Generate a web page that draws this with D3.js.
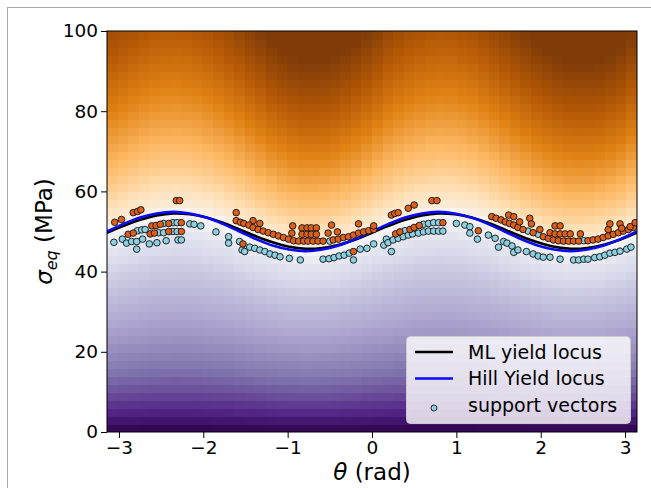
<!DOCTYPE html>
<html>
<head>
<meta charset="utf-8">
<script src="https://cdn.jsdelivr.net/npm/d3@7"></script>
<style>
  html, body { margin: 0; padding: 0; background: #ffffff; }
  svg { display: block; font-family: "DejaVu Sans", sans-serif; }
</style>
</head>
<body>
<svg id="chart" width="651" height="488"></svg>
<script>
// ---- data -------------------------------------------------------------
// loading angle knots (rad), step pi/16
const thetaKnots = [-3.1416, -2.9452, -2.7489, -2.5525, -2.3562, -2.1598, -1.9635, -1.7671,
  -1.5708, -1.3744, -1.1781, -0.9817, -0.7854, -0.5890, -0.3927, -0.1963, 0,
  0.1963, 0.3927, 0.5890, 0.7854, 0.9817, 1.1781, 1.3744, 1.5708, 1.7671, 1.9635,
  2.1598, 2.3562, 2.5525, 2.7489, 2.9452, 3.1416];

// Hill yield locus (MPa)
const hillLocus = [50.0, 51.9, 53.5, 54.5, 54.9, 54.5, 53.5, 51.9, 50.0, 48.1, 46.5, 45.5, 45.1,
  45.5, 46.5, 48.1, 50.0, 51.9, 53.5, 54.5, 54.9, 54.5, 53.5, 51.9, 50.0, 48.1, 46.5, 45.5,
  45.1, 45.5, 46.5, 48.1, 50.0];

// ML yield locus (MPa), zero level of the classifier
const mlLocus = [49.7, 51.4, 52.9, 54.0, 54.5, 54.3, 53.5, 52.2, 50.5, 48.8, 47.3, 46.2, 45.7,
  45.9, 46.7, 48.0, 49.7, 51.4, 52.9, 54.0, 54.5, 54.3, 53.5, 52.2, 50.5, 48.8, 47.3, 46.2,
  45.7, 45.9, 46.7, 48.0, 49.7];

// height above the ML locus (MPa) where the decision field reaches full brown
const orangeSpan = [60, 61, 63, 64, 64, 63, 61, 58.5, 56, 53, 50, 48, 47,
  47, 48, 49.5, 52, 56, 58.5, 60, 61, 61, 59.5, 57, 54.5, 52, 50, 48,
  47, 46.5, 46.5, 48, 52];

// decision level below the locus, by stress as a fraction of the locus
const purpleRatio = [0, 0.03, 0.1, 0.2, 0.3, 0.45, 0.6, 0.75, 0.9, 1];
const purpleLevel = [-1, -0.94, -0.81, -0.69, -0.59, -0.47, -0.37, -0.27, -0.13, 0];

// diverging colour map, brown (+1) through white (0) to purple (-1)
const mapLevels = [1, 0.8, 0.6, 0.4, 0.2, 0, -0.2, -0.4, -0.6, -0.8, -1];
const mapColours = ["#7f3b08", "#b35806", "#e08214", "#fdb863", "#fee0b6", "#f7f7f7",
  "#d8daeb", "#b2abd2", "#8073ac", "#542788", "#2d004b"];

const gridCols = 50;
const gridRows = 50;

const xTicks = [-3, -2, -1, 0, 1, 2, 3];
const yTicks = [0, 20, 40, 60, 80, 100];

// support vectors [theta (rad), sigma_eq (MPa)] — yielded class
const yieldedPts = [
  [-3.05,52.3],[-2.97,53.0],[-2.83,54.7],[-2.78,55.0],[-2.74,55.4],[-2.32,57.7],[-2.28,57.7],
  [-2.89,49.3],[-2.83,49.6],[-2.61,51.4],[-2.56,51.5],[-2.51,51.8],[-2.41,52.0],[-2.26,52.2],
  [-2.63,49.4],[-2.58,49.6],[-2.41,50.0],[-2.26,50.0],
  [-1.61,54.7],[-1.61,52.7],[-1.56,52.3],[-1.52,52.0],[-1.41,52.7],[-1.33,52.0],[-1.46,51.6],
  [-1.41,51.0],[-1.35,50.5],[-1.29,50.1],[-1.23,49.7],[-1.17,49.3],[-1.11,48.9],[-1.05,48.5],
  [-0.99,48.1],[-0.93,47.7],[-0.87,47.6],[-0.81,47.6],[-0.76,47.6],[-0.70,47.6],[-0.64,47.6],
  [-0.58,47.6],[-0.46,47.9],[-0.40,48.1],[-0.34,48.5],[-0.28,48.7],[-0.22,49.1],[-0.16,49.6],
  [-0.10,49.9],[-0.04,50.2],[0.02,50.5],
  [-0.94,51.4],[-0.83,50.9],[-0.77,50.9],[-0.72,50.9],[-0.66,50.9],[-0.95,49.6],[-0.83,49.3],
  [-0.77,49.3],[-0.72,49.3],[-0.66,49.3],[-0.48,51.6],[-0.41,49.9],[-0.52,49.6],[-0.16,51.9],
  [0.02,51.4],[-1.53,46.9],[-0.22,45.0],
  [0.23,54.1],[0.27,54.5],[0.31,54.7],[0.43,55.8],[0.50,56.6],[0.71,57.7],[0.77,57.7],
  [0.28,49.4],[0.33,49.9],[0.45,50.5],[0.50,51.0],[0.56,51.5],[0.84,52.2],[1.26,50.2],
  [1.42,53.7],[1.47,53.3],[1.53,52.9],[1.58,52.4],[1.63,52.0],[1.68,51.6],[1.73,51.0],
  [1.79,50.5],[1.91,49.7],[2.03,48.7],[2.09,48.3],[2.15,47.9],[2.21,47.7],[2.27,47.6],
  [2.33,47.6],[2.39,47.6],[2.45,47.6],[2.56,47.7],[2.62,47.9],[2.68,48.1],[2.74,48.5],
  [2.80,48.9],[2.86,49.3],[2.92,49.7],[2.98,50.1],[3.04,50.5],[3.10,51.0],
  [1.62,54.1],[1.68,53.7],[1.75,52.4],[1.87,53.3],[1.89,51.9],[1.99,50.5],[2.17,51.4],
  [2.23,51.4],[2.11,49.7],[2.17,49.4],[2.23,49.4],[2.29,49.4],[2.35,49.4],[2.47,49.4],
  [2.80,50.5],[2.82,51.9],[2.94,51.9],[2.96,50.8],[3.06,51.2],[3.12,52.2]
];

// support vectors — elastic class
const elasticPts = [
  [-3.06,47.3],[-2.96,48.1],[-2.91,47.1],[-2.85,47.5],[-2.79,47.5],[-2.78,50.2],[-2.73,50.4],
  [-2.69,50.5],[-2.72,48.1],[-2.79,45.6],[-2.64,46.9],[-2.55,47.2],[-2.53,49.7],[-2.47,49.7],
  [-2.47,52.0],[-2.36,52.2],[-2.31,52.2],[-2.36,50.0],[-2.31,50.0],[-2.44,47.7],[-2.30,47.9],
  [-2.26,47.9],[-2.16,51.9],[-2.11,51.8],[-2.03,51.4],[-1.85,49.9],[-1.70,48.7],[-1.70,47.1],
  [-1.57,47.5],[-1.54,45.4],[-1.51,45.0],[-1.45,46.1],[-1.39,45.8],[-1.33,45.4],[-1.27,45.0],
  [-1.21,44.4],[-1.15,44.1],[-1.09,43.7],[-0.98,43.3],[-0.85,42.9],[-0.58,43.1],[-0.51,43.2],
  [-0.45,43.5],[-0.39,43.9],[-0.33,44.1],[-0.27,44.6],[-0.22,42.9],[-0.14,45.6],[-0.06,45.8],
  [0.02,46.9],[-0.50,47.6],
  [0.17,48.1],[0.39,50.2],[0.61,51.8],[0.67,52.0],[0.73,52.2],[0.79,52.2],[0.14,46.6],
  [0.19,47.2],[0.25,47.9],[0.31,48.3],[0.37,48.7],[0.43,49.1],[0.48,49.4],[0.55,49.6],
  [0.61,49.9],[0.67,50.1],[0.73,50.1],[0.79,50.1],[0.84,50.1],[0.23,45.0],
  [1.00,52.0],[1.10,51.6],[1.16,51.2],[1.16,49.6],[1.25,48.1],[1.38,49.1],[1.46,48.3],
  [1.50,46.1],[1.56,47.5],[1.60,47.1],[1.66,46.4],[1.68,44.8],[1.73,45.4],[1.83,45.0],
  [1.91,44.4],[1.97,43.9],[2.03,43.6],[2.11,43.6],[2.23,43.1],[2.39,42.9],[2.45,42.9],
  [2.51,43.1],[2.56,43.1],[2.64,43.5],[2.70,43.7],[2.76,44.1],[2.82,44.6],[2.88,44.8],
  [2.94,45.1],[3.02,45.6],[3.07,46.1],[1.85,50.1],[1.97,49.3],[2.51,47.7]
];

const legendLabels = ["ML yield locus", "Hill Yield locus", "support vectors"];

// ---- layout -----------------------------------------------------------
const svg = d3.select("#chart");
const plot = { left: 107, right: 637, top: 31, bottom: 432 };

const x = d3.scaleLinear().domain([-Math.PI, Math.PI]).range([plot.left, plot.right]);
const y = d3.scaleLinear().domain([0, 100]).range([plot.bottom, plot.top]);

// figure frame
svg.append("rect")
  .attr("x", 7.5).attr("y", 7.5).attr("width", 700).attr("height", 600)
  .attr("fill", "none").attr("stroke", "#a8a8a8").attr("stroke-width", 1);

svg.append("clipPath").attr("id", "plotClip")
  .append("rect")
  .attr("x", plot.left).attr("y", plot.top)
  .attr("width", plot.right - plot.left).attr("height", plot.bottom - plot.top);

// ---- decision field ----------------------------------------------------
const mlAt = d3.scaleLinear().domain(thetaKnots).range(mlLocus);
const spanAt = d3.scaleLinear().domain(thetaKnots).range(orangeSpan);
const purpleAt = d3.scaleLinear().domain(purpleRatio).range(purpleLevel).clamp(true);

function level(th, s) {
  const m = mlAt(th);
  if (s >= m) return Math.min(1, Math.pow((s - m) / spanAt(th), 0.72));
  return purpleAt(s / m);
}
const fieldColour = d3.scaleLinear().domain(mapLevels).range(mapColours)
  .interpolate(d3.interpolateRgb).clamp(true);

const colEdges = d3.range(gridCols + 1).map(i => -Math.PI + i * 2 * Math.PI / gridCols);
const rowEdges = d3.range(gridRows + 1).map(j => j * 100 / gridRows);
const cells = [];
for (let i = 0; i < gridCols; i++) {
  for (let j = 0; j < gridRows; j++) {
    const th = (colEdges[i] + colEdges[i + 1]) / 2;
    const s = (rowEdges[j] + rowEdges[j + 1]) / 2;
    cells.push({ t0: colEdges[i], t1: colEdges[i + 1], s0: rowEdges[j], s1: rowEdges[j + 1], v: level(th, s) });
  }
}

svg.append("g").attr("clip-path", "url(#plotClip)")
  .selectAll("rect").data(cells).join("rect")
  .attr("x", d => x(d.t0))
  .attr("y", d => y(d.s1))
  .attr("width", d => x(d.t1) - x(d.t0) + 0.7)
  .attr("height", d => y(d.s0) - y(d.s1) + 0.7)
  .attr("fill", d => fieldColour(d.v))
  .attr("shape-rendering", "crispEdges");

// ---- loci --------------------------------------------------------------
const lineGen = d3.line()
  .x(d => x(d[0])).y(d => y(d[1]))
  .curve(d3.curveCatmullRom);

const gLines = svg.append("g").attr("clip-path", "url(#plotClip)");
gLines.append("path")
  .datum(thetaKnots.map((t, i) => [t, mlLocus[i]]))
  .attr("d", lineGen).attr("fill", "none")
  .attr("stroke", "#000000").attr("stroke-width", 2.6);
gLines.append("path")
  .datum(thetaKnots.map((t, i) => [t, hillLocus[i]]))
  .attr("d", lineGen).attr("fill", "none")
  .attr("stroke", "#0a0af5").attr("stroke-width", 2.6);

// ---- support vectors ---------------------------------------------------
const yieldColour = "#dd5f1c";
const elasticColour = "#8ccfe0";
const gPts = svg.append("g").attr("clip-path", "url(#plotClip)");
gPts.selectAll("circle.el").data(elasticPts).join("circle")
  .attr("class", "el")
  .attr("cx", d => x(d[0])).attr("cy", d => y(d[1])).attr("r", 3.3)
  .attr("fill", elasticColour).attr("stroke", "#111").attr("stroke-width", 0.9);
gPts.selectAll("circle.yd").data(yieldedPts).join("circle")
  .attr("class", "yd")
  .attr("cx", d => x(d[0])).attr("cy", d => y(d[1])).attr("r", 3.3)
  .attr("fill", yieldColour).attr("stroke", "#111").attr("stroke-width", 0.9);

// ---- frame & axes ------------------------------------------------------
svg.append("rect")
  .attr("x", plot.left).attr("y", plot.top)
  .attr("width", plot.right - plot.left).attr("height", plot.bottom - plot.top)
  .attr("fill", "none").attr("stroke", "#000").attr("stroke-width", 1);

const xAxis = svg.append("g")
  .attr("transform", `translate(0,${plot.bottom})`)
  .call(d3.axisBottom(x).tickValues(xTicks).tickSize(6).tickPadding(3)
    .tickFormat(d3.format("d")));
const yAxis = svg.append("g")
  .attr("transform", `translate(${plot.left},0)`)
  .call(d3.axisLeft(y).tickValues(yTicks).tickSize(6).tickPadding(3)
    .tickFormat(d3.format("d")));

[xAxis, yAxis].forEach(g => {
  g.select(".domain").remove();
  g.selectAll(".tick line").attr("stroke", "#000").attr("stroke-width", 1);
  g.selectAll(".tick text")
    .attr("fill", "#000")
    .style("font-family", "'DejaVu Sans', sans-serif")
    .style("font-size", "18.5px");
});

// axis titles
const xTitle = svg.append("text")
  .attr("x", (plot.left + plot.right) / 2).attr("y", 480)
  .attr("text-anchor", "middle")
  .style("font-size", "23px").attr("fill", "#000");
xTitle.append("tspan").attr("font-style", "italic").text("θ");
xTitle.append("tspan").text(" (rad)");

const yTitle = svg.append("text")
  .attr("transform", `translate(52,${(plot.top + plot.bottom) / 2}) rotate(-90)`)
  .attr("text-anchor", "middle")
  .style("font-size", "23px").attr("fill", "#000");
yTitle.append("tspan").attr("font-style", "italic").text("σ");
yTitle.append("tspan").attr("font-style", "italic").attr("dy", 5).style("font-size", "16px").text("eq");
yTitle.append("tspan").attr("dy", -5).text(" (MPa)");

// ---- legend ------------------------------------------------------------
const lg = svg.append("g");
lg.append("rect")
  .attr("x", 406.5).attr("y", 336.5).attr("width", 224).attr("height", 87)
  .attr("rx", 4).attr("ry", 4)
  .attr("fill", "rgba(255,255,255,0.8)").attr("stroke", "#cccccc").attr("stroke-width", 1);

const rowY = [352, 378.5, 405];
lg.append("line").attr("x1", 415).attr("x2", 453).attr("y1", rowY[0]).attr("y2", rowY[0])
  .attr("stroke", "#000").attr("stroke-width", 2.6);
lg.append("line").attr("x1", 415).attr("x2", 453).attr("y1", rowY[1]).attr("y2", rowY[1])
  .attr("stroke", "#0a0af5").attr("stroke-width", 2.6);
lg.append("circle").attr("cx", 434).attr("cy", rowY[2] + 3).attr("r", 3)
  .attr("fill", elasticColour).attr("stroke", "#111").attr("stroke-width", 0.9);
lg.selectAll("text.lbl").data(legendLabels).join("text")
  .attr("class", "lbl")
  .attr("x", 468).attr("y", (d, i) => rowY[i] + 6.6)
  .style("font-size", "19px").attr("fill", "#000")
  .text(d => d);
</script>
</body>
</html>
